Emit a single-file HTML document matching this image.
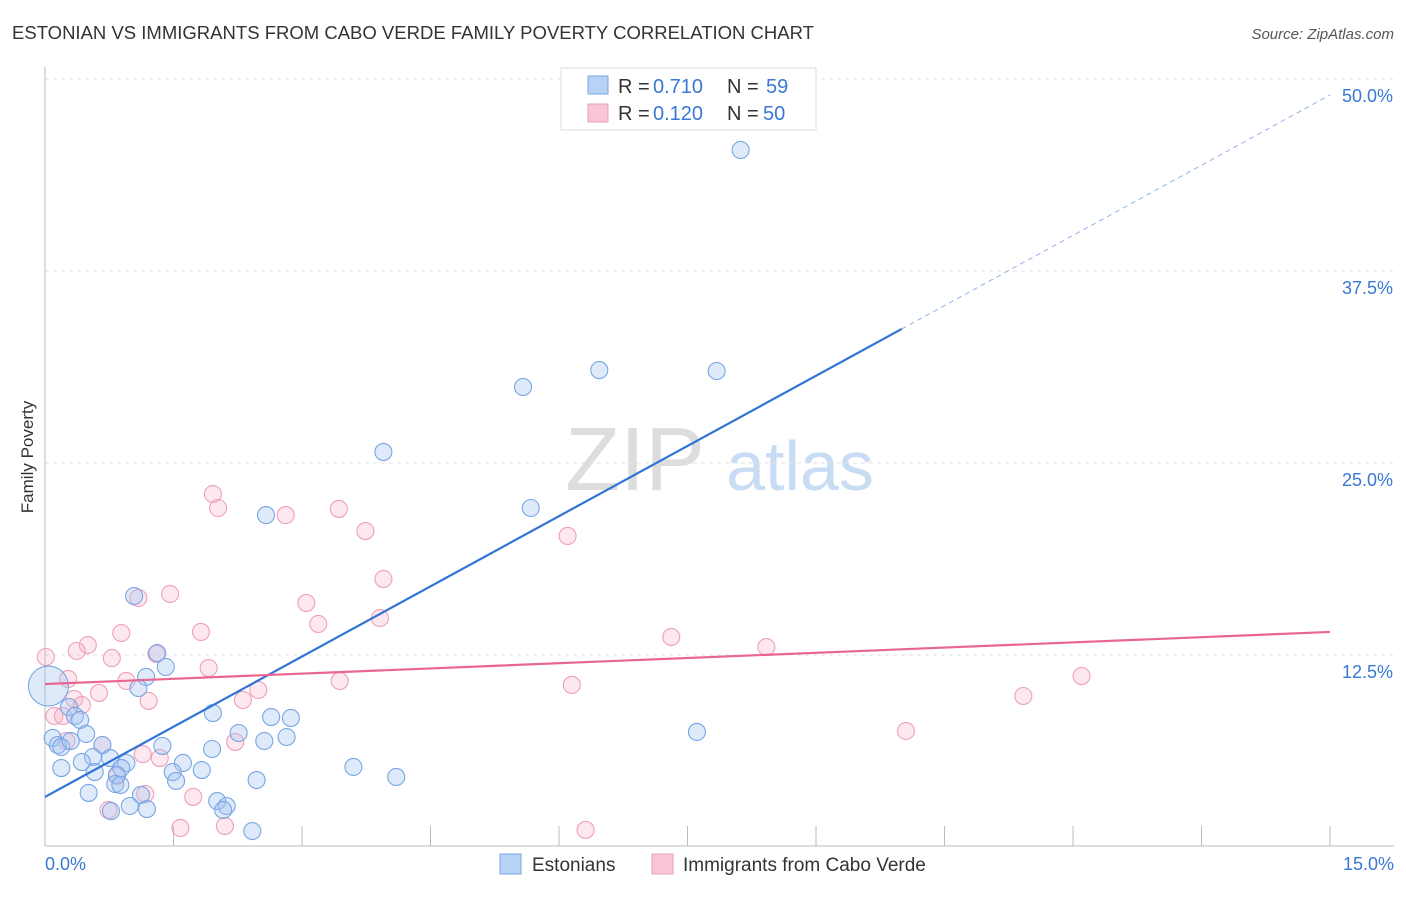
<!DOCTYPE html>
<html><head><meta charset="utf-8"><style>
body{margin:0;background:#fff;font-family:"Liberation Sans",sans-serif}
svg text{font-family:"Liberation Sans",sans-serif}
</style></head><body>
<svg id="c" width="1406" height="892">
<text x="12" y="39" font-size="18" fill="#333" textLength="802" lengthAdjust="spacingAndGlyphs">ESTONIAN VS IMMIGRANTS FROM CABO VERDE FAMILY POVERTY CORRELATION CHART</text>
<text x="1394" y="39" font-size="15" fill="#555" font-style="italic" text-anchor="end">Source: ZipAtlas.com</text>
<text x="33" y="457" font-size="17" fill="#333" transform="rotate(-90 33 457)" text-anchor="middle">Family Poverty</text>
<g><text x="635" y="490" font-size="90" fill="#ddd" font-family="Liberation Serif" text-anchor="middle">ZIP</text><text x="800" y="490" font-size="70" fill="#c8dcf3" text-anchor="middle">atlas</text></g>
<g id="grid"></g><g id="axes"></g><g id="pts"></g><g id="lines"></g>
<g>
<rect x="561" y="68" width="255" height="62" fill="#fff" stroke="#ddd"/>
<rect x="588" y="76" width="20" height="18" fill="#b8d2f5" stroke="#7aa6e6"/>
<rect x="588" y="104" width="20" height="18" fill="#f9c6d6" stroke="#ee9db8"/>
<text x="618" y="93" font-size="20" fill="#333">R =</text><text x="653" y="93" font-size="20" fill="#3a78d4">0.710</text>
<text x="727" y="93" font-size="20" fill="#333">N =</text><text x="766" y="93" font-size="20" fill="#3a78d4">59</text>
<text x="618" y="120" font-size="20" fill="#333">R =</text><text x="653" y="120" font-size="20" fill="#3a78d4">0.120</text>
<text x="727" y="120" font-size="20" fill="#333">N =</text><text x="763" y="120" font-size="20" fill="#3a78d4">50</text>
</g>
<g>
<rect x="500" y="854" width="21" height="20" fill="#b8d2f5" stroke="#7aa6e6"/>
<text x="532" y="871" font-size="19" fill="#333">Estonians</text>
<rect x="652" y="854" width="21" height="20" fill="#f9c6d6" stroke="#ee9db8"/>
<text x="683" y="871" font-size="19" fill="#333">Immigrants from Cabo Verde</text>
</g>
</svg>
<script>
const blueX=[8.12,6.47,7.84,5.58,3.95,2.58,5.67,1.04,1.31,1.41,1.18,1.09,0.04,0.28,0.35,0.41,1.96,2.64,2.87,0.09,0.15,0.19,0.30,0.48,0.67,1.37,2.26,2.82,2.56,1.95,0.56,0.76,0.95,1.61,0.43,0.58,0.89,1.49,1.83,0.19,0.84,0.82,0.88,1.53,2.47,3.60,4.10,7.61,0.51,1.12,0.99,1.19,0.77,2.01,2.12,2.08,2.42];
const blueY=[45.38,31.05,30.99,29.95,25.72,21.61,22.07,16.34,12.63,11.72,11.07,10.35,10.48,9.11,8.53,8.27,8.72,8.46,8.40,7.10,6.64,6.51,6.90,7.36,6.64,6.58,7.42,7.16,6.90,6.38,5.86,5.79,5.47,5.47,5.53,4.88,5.14,4.88,5.01,5.14,4.69,4.10,4.04,4.30,4.36,5.21,4.56,7.49,3.52,3.39,2.67,2.47,2.34,2.99,2.67,2.41,1.04];
const pinkX=[1.96,2.02,2.81,3.43,3.74,6.10,3.95,1.09,1.46,3.05,3.19,3.91,0.89,1.82,0.50,0.37,0.78,1.30,7.31,8.42,0.01,1.91,0.27,0.95,3.44,6.15,2.49,12.10,11.42,0.63,0.34,1.21,2.31,0.11,0.21,0.43,0.67,2.22,1.14,1.34,0.84,1.73,1.17,0.74,2.10,1.58,6.31,10.05,0.25];
const pinkY=[22.98,22.07,21.61,22.01,20.57,20.25,17.45,16.21,16.47,15.89,14.52,14.91,13.93,14.00,13.15,12.76,12.30,12.57,13.67,13.02,12.37,11.65,10.94,10.81,10.81,10.55,10.22,11.13,9.83,10.03,9.64,9.51,9.57,8.53,8.53,9.24,6.64,6.84,6.05,5.79,4.62,3.26,3.45,2.41,1.37,1.24,1.11,7.55,6.90];
const yTicks=[12.5,25,37.5,50];
const xTickVals=[0,1.5,3,4.5,6,7.5,9,10.5,12,13.5,15];
const blueFit=[3.26,48.96]; const blueSolidEnd=10.0;
const pinkFit=[10.61,14.0];
const X=v=>45+v*85.67, Y=v=>847-v*15.36;
const NS='http://www.w3.org/2000/svg';
function mk(p,t,a){const e=document.createElementNS(NS,t);for(const k in a)e.setAttribute(k,a[k]);p.appendChild(e);return e;}
const grid=document.getElementById('grid'),axes=document.getElementById('axes'),pts=document.getElementById('pts'),lines=document.getElementById('lines');
yTicks.forEach(t=>{
 const g=mk(grid,'line',{x1:45,x2:1394,y1:Y(t),y2:Y(t),stroke:'#e2e2e2','stroke-dasharray':'4,4'});
 
 
 const l=mk(axes,'text',{x:1393,y:Y(t)+23,'font-size':18,fill:'#3a78d4','text-anchor':'end'});l.textContent=t.toFixed(1)+'%';
 
 
});
const ax=mk(axes,'line',{x1:45,x2:45,y1:67,y2:846,stroke:'#bbb'});


const bx=mk(axes,'line',{x1:45,x2:1394,y1:846,y2:846,stroke:'#bbb'});


xTickVals.forEach(t=>{const e=mk(axes,'line',{x1:X(t),x2:X(t),y1:826,y2:846,stroke:'#bbb'});
 
 });
[[0,'start',45],[15,'end',1394]].forEach(([v,a,x])=>{const l=mk(axes,'text',{x:x,y:870,'font-size':18,fill:'#3a78d4','text-anchor':a});l.textContent=v.toFixed(1)+'%';
 
 });
pinkX.forEach((v,i)=>{const c=mk(pts,'circle',{cx:X(v),cy:Y(pinkY[i]),r:8.5,fill:'rgba(246,178,200,0.3)',stroke:'#ef9fba','stroke-width':1.1});
 
 });
blueX.forEach((v,i)=>{const c=mk(pts,'circle',{cx:X(v),cy:Y(blueY[i]),r:i==12?20:8.5,fill:'rgba(160,196,240,0.35)',stroke:'#78a6e4','stroke-width':1.1});
 
 });
const by=x=>blueFit[0]+(blueFit[1]-blueFit[0])*x/15;
const b1=mk(lines,'line',{x1:X(0),y1:Y(by(0)),x2:X(blueSolidEnd),y2:Y(by(blueSolidEnd)),stroke:'#2f74d6','stroke-width':2.2});


const b2=mk(lines,'line',{x1:X(blueSolidEnd),y1:Y(by(blueSolidEnd)),x2:X(15),y2:Y(by(15)),stroke:'#8fb3e6','stroke-width':1,'stroke-dasharray':'5,4'});


const p1=mk(lines,'line',{x1:X(0),y1:Y(pinkFit[0]),x2:X(15),y2:Y(pinkFit[1]),stroke:'#e8668f','stroke-width':2.2});


</script>
</body></html>
